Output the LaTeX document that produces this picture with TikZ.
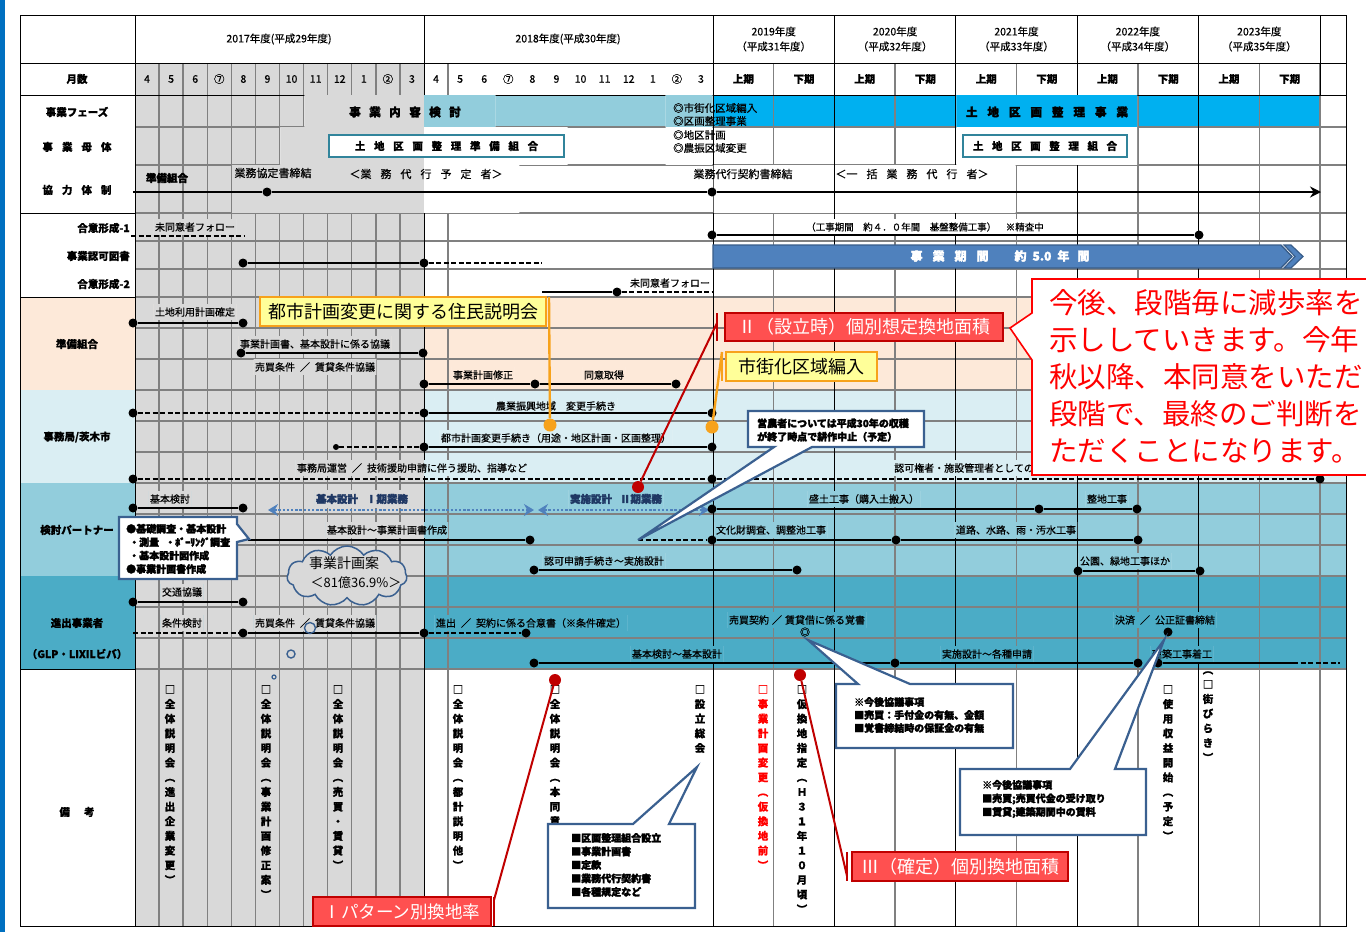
\documentclass[tikz,border=0pt]{standalone}
\usepackage{fontspec}
\setmainfont{Noto Sans CJK JP}[FakeBold=0.6]
\newfontfamily\hv{Noto Sans CJK JP}[FakeBold=2.5]
\newfontfamily\thn{Noto Sans CJK JP}
\usetikzlibrary{arrows.meta,shapes.symbols}
\newcommand\myhs[1]{\hspace*{#1pt}}
\definecolor{gy}{HTML}{D9D9D9}
\definecolor{pch}{HTML}{FDE9D9}
\definecolor{lbA}{HTML}{DAEEF3}
\definecolor{lbB}{HTML}{92CDDC}
\definecolor{lbC}{HTML}{4BACC6}
\definecolor{phb}{HTML}{00B0F0}
\definecolor{gline}{HTML}{808080}
\definecolor{cdk}{HTML}{3A6090}
\definecolor{bnr}{HTML}{4F81BD}
\definecolor{bnrd}{HTML}{385D8A}
\definecolor{navy}{HTML}{1F3864}
\definecolor{tealbox}{HTML}{31849B}
\definecolor{redbox}{HTML}{FF5050}
\definecolor{redln}{HTML}{C00000}
\definecolor{yel}{HTML}{FFFF99}
\definecolor{orng}{HTML}{F7A21B}
\definecolor{leftbar}{HTML}{0070C0}
\definecolor{bigred}{HTML}{FF0000}
\pgfdeclarelayer{bg}
\pgfdeclarelayer{grid}
\pgfdeclarelayer{mask}
\pgfsetlayers{bg,grid,mask,main}
\newcommand\bgall{%
 \fill[white] (20,15) rectangle (1346,926);
 \fill[pch] (20,297) rectangle (1346,390);
 \fill[lbA] (20,390) rectangle (1346,483);
 \fill[lbB] (20,483) rectangle (1346,576);
 \fill[lbC] (20,576) rectangle (1346,669);
 \fill[lbB] (424,95) rectangle (713,127);
 \fill[phb] (713,95) rectangle (1320,127);
 \fill[gy] (135,63) rectangle (424,926);}
\newcommand\maskbox[2]{\begin{scope}\clip (#1) rectangle (#2);\bgall\end{scope}}
\begin{document}
\begin{tikzpicture}[x=1pt,y=-1pt,
 gl/.style={draw=gline,line width=1.4pt},
 bl/.style={draw=black,line width=0.9pt},
 yr/.style={font=\fontsize{10.5}{15}\selectfont,align=center,inner sep=0pt},
 mo/.style={font=\fontsize{10.5}{12}\selectfont,inner sep=0pt},
 hd/.style={font=\fontsize{10.5}{12}\selectfont\bfseries,inner sep=0pt},
 rl/.style={font=\fontsize{10.5}{13}\selectfont\bfseries,inner sep=1pt},
 lbl/.style={font=\fontsize{10}{12}\selectfont,inner xsep=1pt,inner ysep=3pt},
 sl/.style={font=\fontsize{9.5}{12}\selectfont,inner xsep=1pt,inner ysep=3pt},
 hvy/.style={font=\fontsize{11.5}{13}\selectfont\hv\bfseries,inner sep=1pt},
 nv/.style={font=\fontsize{10.5}{12}\selectfont\hv\bfseries,text=navy,inner xsep=1pt,inner ysep=3pt},
 bar/.style={line width=2.6pt},
 dbar/.style={line width=2.6pt,dash pattern=on 5pt off 2.5pt},
 dot/.style={circle,fill=black,inner sep=0pt,minimum size=9pt},
 sdot/.style={circle,fill=black,inner sep=0pt,minimum size=6pt},
 rdot/.style={circle,fill=redln,inner sep=0pt,minimum size=12pt},
 odot/.style={circle,fill=orng,inner sep=0pt,minimum size=13pt},
 vt/.style={font=\fontsize{10.5}{14.65}\selectfont\bfseries,align=center,anchor=north,inner sep=0pt},
 cb/.style={draw=cdk,line width=2.2pt,fill=white,line join=miter},
 ct/.style={font=\fontsize{10}{13.4}\selectfont\hv\bfseries,align=left,inner sep=0pt,anchor=west},
 rb/.style={fill=redbox,draw=redln,line width=2.4pt,text=white,font=\fontsize{18}{20}\selectfont\thn,inner sep=0pt},
 yb/.style={fill=yel,draw=orng,line width=2.8pt,font=\fontsize{18}{20}\selectfont\thn,inner sep=0pt},
 rln/.style={draw=redln,line width=2pt},
 oln/.style={draw=orng,line width=2.4pt},
 darr/.style={draw=bnr,line width=2.8pt,dash pattern=on 2.4pt off 1.8pt,<->,>={Stealth[length=10pt,width=12pt]}},
 mb/.style={draw=tealbox,line width=2.4pt,fill=white,font=\fontsize{10.5}{12}\selectfont\bfseries,inner sep=0pt},
]
\useasboundingbox (0,0) rectangle (1366,932);
\begin{pgfonlayer}{bg}
\fill[white] (0,0) rectangle (1366,932);
\bgall
\fill[leftbar] (0,0) rectangle (5,932);
\end{pgfonlayer}
\begin{pgfonlayer}{grid}
\foreach \i in {1,...,11,13,...,23} \draw[gl] ({135+24.083*\i},63) -- ({135+24.083*\i},926);
\foreach \x in {773.7,895.1,1016.5,1137.9,1259.3,1320} \draw[gl] (\x,63) -- (\x,926);
\foreach \y in {127,165,213,241,269,297,328,359,390,421,452,483,514,545,576,607,638,669} \draw[gl] (135,\y) -- (1346,\y);
\foreach \x in {135,424,713,834.4,955.8,1077.2,1198.6} \draw[bl] (\x,15) -- (\x,926);
\draw[bl] (1320,15) -- (1320,95);
\draw[bl] (20,63) -- (1346,63);
\draw[bl] (20,95) -- (1346,95);
\foreach \y in {213,297,669} \draw[bl] (20,\y) -- (135,\y);
\draw[bl] (20,15) rectangle (1346,926);
\end{pgfonlayer}

% ---------- header ----------
\node[yr] (y17) at (279,39) {2017年度(平成29年度)};
\node[yr] (y18) at (568,39) {2018年度(平成30年度)};
\foreach \xx/\yy/\hh [count=\k] in {773.7/2019/31,895.1/2020/32,1016.5/2021/33,1137.9/2022/34,1259.3/2023/35}
  \node[yr] (yh\k) at (\xx,39) {{\yy}年度\\（平成{\hh}年度）};
\node[hd] (hmon) at (77,79) {月数};
\foreach \mm [count=\i from 0] in {4,5,6,⑦,8,9,10,11,12,1,②,3,4,5,6,⑦,8,9,10,11,12,1,②,3}
  \node[mo] (mo\i) at ({147.04+24.083*\i},79) {\mm};
\foreach \j in {0,2,4,6,8} \node[hd] (hu\j) at ({743.35+60.7*\j},79) {上期};
\foreach \j in {1,3,5,7,9} \node[hd] (hl\j) at ({743.35+60.7*\j},79) {下期};

% ---------- row labels ----------
\node[rl] (r1) at (77,112) {事業フェーズ};
\node[rl] (r2) at (77,147) {事\myhs{9}業\myhs{9}母\myhs{9}体};
\node[rl] (r3) at (77,190) {協\myhs{9}力\myhs{9}体\myhs{9}制};
\node[rl,anchor=east] (r4) at (131,228) {合意形成-1};
\node[rl,anchor=east] (r5) at (131,256) {事業認可図書};
\node[rl,anchor=east] (r6) at (131,284) {合意形成-2};
\node[rl] (r7) at (77,344) {準備組合};
\node[rl] (r8) at (77,437) {事務局/茨木市};
\node[rl] (r9) at (77,530) {検討パートナー};
\node[rl] (r10) at (77,623) {進出事業者};
\node[rl] (r11) at (77,654) {（GLP・LIXILビバ）};
\node[rl] (r12) at (77,812) {備\myhs{14}考};

% ---------- phase / body / cooperation rows ----------
\node[hvy] (ph1) at (405,112) {事\myhs{8.5}業\myhs{8.5}内\myhs{8.5}容\myhs{8.5}検\myhs{8.5}討};
\node[hvy] (ph2) at (1047,112) {土\myhs{10}地\myhs{10}区\myhs{10}画\myhs{10}整\myhs{10}理\myhs{10}事\myhs{10}業};
\node[lbl,anchor=west,font=\fontsize{10.5}{12}\selectfont] (ph3) at (672,108) {◎市街化区域編入};
\node[lbl,anchor=west,font=\fontsize{10.5}{12}\selectfont] (ph4) at (672,121) {◎区画整理事業};
\node[lbl,anchor=west,font=\fontsize{10.5}{12}\selectfont] (ph5) at (672,135) {◎地区計画};
\node[lbl,anchor=west,font=\fontsize{10.5}{12}\selectfont] (ph6) at (672,148) {◎農振区域変更};
\node[mb,minimum width=235pt,minimum height=22pt] (mb1) at (446.5,146) {土\myhs{8.7}地\myhs{8.7}区\myhs{8.7}画\myhs{8.7}整\myhs{8.7}理\myhs{8.7}準\myhs{8.7}備\myhs{8.7}組\myhs{8.7}合};
\node[mb,minimum width=164pt,minimum height=22pt] (mb2) at (1045,146) {土\myhs{8.6}地\myhs{8.6}区\myhs{8.6}画\myhs{8.6}整\myhs{8.6}理\myhs{8.6}組\myhs{8.6}合};
\node[hvy,font=\fontsize{10.5}{12}\selectfont\hv\bfseries] (kt1) at (167,178) {準備組合};
\node[lbl,font=\fontsize{11}{12}\selectfont] (kt2) at (273,173) {業務協定書締結};
\node[lbl,font=\fontsize{11}{12}\selectfont] (kt3) at (426,174) {＜業\myhs{9}務\myhs{9}代\myhs{9}行\myhs{9}予\myhs{9}定\myhs{9}者＞};
\node[lbl,font=\fontsize{11}{12}\selectfont] (kt4) at (743,174) {業務代行契約書締結};
\node[lbl,font=\fontsize{11}{12}\selectfont] (kt5) at (912,174) {＜一\myhs{9}括\myhs{9}業\myhs{9}務\myhs{9}代\myhs{9}行\myhs{9}者＞};
\coordinate (kS) at (133,192);
\node[dot] (k1) at (267,192) {};
\node[dot] (k2) at (712,192) {};
\coordinate (kE) at (1321,192);
\draw[bar] (kS) -- (k1);
\draw[bar] (k1) -- (k2);
\draw[bar,-{Stealth[length=11pt,width=11pt]}] (k2) -- (kE);

% ---------- consent / approval rows ----------
\node[lbl] (gA) at (195,227) {未同意者フォロー};
\node[sl] (gB) at (925,227) {（工事期間　約４．０年間　基盤整備工事）　※精査中};
\node[lbl] (gC) at (670,283) {未同意者フォロー};
\coordinate (g1s) at (131,236); \coordinate (g1e) at (245,236);
\draw[dbar] (g1s) -- (g1e);
\node[dot] (g1a) at (712,235) {}; \node[dot] (g1b) at (1199,235) {};
\draw[bar] (g1a) -- (g1b);
\node[dot] (j1) at (243,263) {}; \node[dot] (j2) at (424,263) {}; \coordinate (j3) at (542,263);
\draw[bar] (j1) -- (j2); \draw[dbar] (j2) -- (j3);
\coordinate (g2s) at (542,292); \node[dot] (g2a) at (617,292) {}; \coordinate (g2e) at (713,292);
\draw[bar] (g2s) -- (g2a); \draw[dbar] (g2a) -- (g2e);
\draw[fill=bnr,draw=bnrd,line width=1.4pt] (713,245) -- (1281,245) -- (1292,256.5) -- (1281,268) -- (713,268) -- cycle;
\draw[fill=bnr,draw=bnrd,line width=1.2pt] (1284,245) -- (1291,245) -- (1303,256.5) -- (1291,268) -- (1284,268) -- (1295,256.5) -- cycle;
\node[font=\fontsize{12}{14}\selectfont\hv\bfseries,text=white,inner sep=0pt] (bnt) at (1000,256) {事\myhs{10}業\myhs{10}期\myhs{10}間\myhs{26}約\myhs{6}5.0\myhs{6}年\myhs{8}間};

% ---------- 準備組合 ----------
\node[lbl] (pA) at (195,312) {土地利用計画確定};
\node[lbl] (pB) at (315,344) {事業計画書、基本設計に係る協議};
\node[lbl] (pC) at (315,367) {売買条件\myhs{5}／\myhs{5}賃貸条件協議};
\node[lbl] (pD) at (483,375) {事業計画修正};
\node[lbl] (pE) at (604,375) {同意取得};
\node[dot] (p1a) at (133,323) {}; \node[dot] (p1b) at (243,323) {};
\draw[bar] (p1a) -- (p1b);
\node[dot] (p2a) at (241,353) {}; \node[dot] (p2b) at (423,353) {};
\draw[bar] (p2a) -- (p2b);
\node[dot] (p3a) at (424,384) {}; \node[dot] (p3b) at (535,384) {}; \node[dot] (p3c) at (676,384) {};
\draw[bar] (p3a) -- (p3b); \draw[bar] (p3b) -- (p3c);

% ---------- 事務局 ----------
\node[lbl] (sA) at (556,406) {農業振興地域　変更手続き};
\node[lbl] (sB) at (556,438) {都市計画変更手続き（用途・地区計画・区画整理）};
\node[lbl] (sC) at (412,468) {事務局運営\myhs{5}／\myhs{5}技術援助申請に伴う援助、指導など};
\node[lbl,anchor=west] (sD) at (893,468) {認可権者・施設管理者としての};
\node[dot] (s1a) at (133,413) {}; \node[dot] (s1b) at (424,413) {}; \node[dot] (s1c) at (712,413) {};
\draw[dbar] (s1a) -- (s1b); \draw[bar] (s1b) -- (s1c);
\node[sdot] (s2a) at (336,447) {}; \node[dot] (s2b) at (424,447) {}; \node[dot] (s2c) at (712,447) {};
\draw[dbar] (s2a) -- (s2b); \draw[bar] (s2b) -- (s2c);
\node[dot] (s3a) at (133,479) {}; \node[dot] (s3b) at (712,479) {}; \node[dot] (s3c) at (1320,479) {};
\draw[dbar] (s3a) -- (s3b); \draw[dbar] (s3b) -- (s3c);

% ---------- 検討パートナー ----------
\node[lbl] (kA) at (170,499) {基本検討};
\node[nv] (kB) at (362,499) {基本設計\myhs{8}Ⅰ期業務};
\node[nv] (kC) at (616,499) {実施設計\myhs{8}Ⅱ期業務};
\node[lbl] (kD) at (864,499) {盛土工事（購入土搬入）};
\node[lbl] (kE2) at (1107,499) {整地工事};
\node[lbl] (kF) at (387,530) {基本設計～事業計画書作成};
\node[lbl] (kG) at (771,530) {文化財調査、調整池工事};
\node[lbl] (kH) at (1016,530) {道路、水路、雨・汚水工事};
\node[lbl] (kI) at (604,561) {認可申請手続き～実施設計};
\node[lbl] (kJ) at (1125,561) {公園、緑地工事ほか};
\node[dot] (t1a) at (133,508) {}; \node[dot] (t1b) at (243,508) {};
\draw[bar] (t1a) -- (t1b);
\coordinate (a1l) at (268,510); \coordinate (a1r) at (534,510);
\coordinate (a2l) at (538,510); \coordinate (a2r) at (709,510);
\draw[darr] (a1l) -- (a1r);
\draw[darr] (a2l) -- (a2r);
\node[dot] (t1c) at (712,509) {}; \node[dot] (t1d) at (1039,509) {}; \node[dot] (t1e) at (1137,509) {};
\draw[bar] (t1c) -- (t1d); \draw[bar] (t1d) -- (t1e);
\coordinate (t2s) at (248,540); \node[dot] (t2b) at (530,540) {};
\draw[bar] (t2s) -- (t2b);
\coordinate (t2c) at (638,540); \node[dot] (t2d) at (712,540) {}; \node[dot] (t2e) at (896,540) {}; \node[dot] (t2f) at (1138,540) {};
\draw[dbar] (t2c) -- (t2d); \draw[bar] (t2d) -- (t2e); \draw[bar] (t2e) -- (t2f);
\node[dot] (t3a) at (534,570) {}; \node[dot] (t3b) at (797,570) {};
\draw[bar] (t3a) -- (t3b);
\node[dot] (t3c) at (1078,571) {}; \node[dot] (t3d) at (1200,571) {};
\draw[bar] (t3c) -- (t3d);

% ---------- 進出事業者 ----------
\node[lbl] (uA) at (182,592) {交通協議};
\node[lbl] (uB) at (182,623) {条件検討};
\node[lbl] (uC) at (315,623) {売買条件\myhs{5}／\myhs{5}賃貸条件協議};
\node[lbl] (uD) at (531,623) {進出\myhs{5}／\myhs{5}契約に係る合意書（※条件確定）};
\node[lbl] (uE) at (797,620) {売買契約\myhs{3}／\myhs{3}賃貸借に係る覚書};
\node[lbl] (uF) at (1165,620) {決済\myhs{5}／\myhs{5}公正証書締結};
\node[lbl] (uG) at (677,654) {基本検討～基本設計};
\node[lbl] (uH) at (987,654) {実施設計～各種申請};
\node[lbl] (uI) at (1182,654) {建築工事着工};
\node[inner sep=0pt,font=\fontsize{10}{12}\selectfont] (uJ) at (805,632) {◎};
\node[dot] (u1a) at (133,602) {}; \node[dot] (u1b) at (243,602) {};
\draw[bar] (u1a) -- (u1b);
\coordinate (u2s) at (133,633); \node[dot] (u2b) at (243,633) {}; \node[dot] (u2c) at (424,633) {}; \node[dot] (u2d) at (526,633) {};
\draw[dbar] (u2s) -- (u2b); \draw[bar] (u2b) -- (u2c); \draw[dbar] (u2c) -- (u2d);
\node[dot] (u2e) at (1168,632) {};
\node[dot] (u3a) at (534,663) {}; \node[dot] (u3b) at (895,663) {}; \node[dot] (u3c) at (1138,663) {};
\draw[bar] (u3a) -- (u3b); \draw[bar] (u3b) -- (u3c);
\node[dot] (u3d) at (1158,663) {}; \coordinate (u3e) at (1293,663); \coordinate (u3f) at (1340,663);
\draw[bar] (u3d) -- (u3e); \draw[dbar] (u3e) -- (u3f);

% ---------- masks for merged cells ----------
\begin{pgfonlayer}{mask}
\maskbox{304.5,95.5}{495.3,126.2}
\maskbox{665.7,95.5}{712.4,164.2}
\maskbox{956.4,95.5}{1137,126.2}
\maskbox{280.4,127.8}{567.6,164.2}
\maskbox{956.4,127.8}{1137,164.2}
\maskbox{232.2,165.8}{519.4,212.2}
\maskbox{713.6,165.8}{833.8,212.2}
\maskbox{835,165.8}{1015.7,212.2}
\foreach \n in {gA,gB,gC,pA,pB,pC,pD,pE,sA,sB,sC,sD,kA,kB,kC,kD,kE2,kF,kG,kH,kI,kJ,uA,uB,uC,uD,uE,uF,uG,uH,uI}
  {\maskbox{\n.south west}{\n.north east}}
\end{pgfonlayer}

% ---------- cloud ----------
\node[cloud,cloud puffs=11,cloud puff arc=115,aspect=2,draw=cdk,line width=1.5pt,fill=gy,minimum width=120pt,minimum height=60pt,inner sep=0pt] (cld) at (347,576) {};
\node[font=\fontsize{14}{16}\selectfont\thn,inner sep=0pt] (cldA) at (344,563) {事業計画案};
\node[font=\fontsize{13}{15}\selectfont\thn,inner sep=0pt] (cldB) at (356,583) {＜81億36.9\%＞};
\node[circle,draw=cdk,line width=1.4pt,minimum size=11pt,inner sep=0pt] (tb1) at (310,628) {};
\node[circle,draw=cdk,line width=1.4pt,minimum size=8pt,inner sep=0pt] (tb2) at (291,654) {};
\node[circle,draw=cdk,line width=1.2pt,minimum size=4pt,inner sep=0pt] (tb3) at (274,677) {};

% ---------- remarks (vertical text) ----------
\node[vt] (v1) at (170,685) {□\\全\\体\\説\\明\\会\\︵\\進\\出\\企\\業\\変\\更\\︶};
\node[vt] (v2) at (266,685) {□\\全\\体\\説\\明\\会\\︵\\事\\業\\計\\画\\修\\正\\案\\︶};
\node[vt] (v3) at (338,685) {□\\全\\体\\説\\明\\会\\︵\\売\\買\\・\\賃\\貸\\︶};
\node[vt] (v4) at (458,685) {□\\全\\体\\説\\明\\会\\︵\\都\\計\\説\\明\\他\\︶};
\node[vt] (v5) at (555,685) {□\\全\\体\\説\\明\\会\\︵\\本\\同\\意\\︶};
\node[vt] (v6) at (700,685) {□\\設\\立\\総\\会};
\node[vt,text=bigred] (v7) at (763,685) {□\\事\\業\\計\\画\\変\\更\\︵\\仮\\換\\地\\前\\︶};
\node[vt] (v8) at (802,685) {□\\仮\\換\\地\\指\\定\\︵\\Ｈ\\３\\１\\年\\１\\０\\月\\頃\\︶};
\node[vt] (v9) at (1168,685) {□\\使\\用\\収\\益\\開\\始\\︵\\予\\定\\︶};
\node[vt] (v10) at (1208,671) {︵\\□\\街\\び\\ら\\き\\︶};

% ---------- callouts (blue) ----------
\draw[cb] (119,517) -- (237,517) -- (237,524) -- (249,539) -- (237,542) -- (237,579) -- (119,579) -- cycle;
\node[ct] (c1) at (126,549) {●基礎調査・基本設計\\\myhs{3}・測量\myhs{6}・ﾎﾞｰﾘﾝｸﾞ調査\\\myhs{3}・基本設計図作成\\●事業計画書作成};
\draw[cb] (748,411) -- (924,411) -- (924,447) -- (812,447) -- (638,540) -- (774,447) -- (748,447) -- cycle;
\node[ct] (c2) at (757,430) {営農者については平成30年の収穫\\が終了時点で耕作中止（予定）};
\draw[cb] (836,684) -- (858,684) -- (808,640) -- (910,684) -- (1013,684) -- (1013,748) -- (836,748) -- cycle;
\node[ct,font=\fontsize{10}{13}\selectfont\hv\bfseries] (c3) at (854,715) {※今後協議事項\\■売買：手付金の有無、金額\\■覚書締結時の保証金の有無};
\draw[cb] (960,769) -- (1070,769) -- (1164,640) -- (1115,769) -- (1146,769) -- (1146,835) -- (960,835) -- cycle;
\node[ct,font=\fontsize{10}{13.5}\selectfont\hv\bfseries] (c4) at (982,799) {※今後協議事項\\■売買;売買代金の受け取り\\■賃貸;建築期間中の賃料};
\draw[cb] (548,824) -- (633,824) -- (697,767) -- (669,824) -- (695,824) -- (695,908) -- (548,908) -- cycle;
\node[ct,font=\fontsize{10}{13.5}\selectfont\hv\bfseries] (c5) at (571,865) {■区画整理組合設立\\■事業計画書\\■定款\\■業務代行契約書\\■各種規定など};

% ---------- yellow callouts ----------
\node[yb,minimum width=286pt,minimum height=29pt] (yb1) at (403,311.5) {都市計画変更に関する住民説明会};
\node[odot] (o1) at (550,425) {};
\coordinate (yb1a) at (549,297);
\draw[oln] (yb1a) -- (o1);
\node[yb,minimum width=151pt,minimum height=29pt] (yb2) at (801.5,366.5) {市街化区域編入};
\node[odot] (o2) at (712,427) {};
\coordinate (yb2a) at (722,352); \coordinate (yb2b) at (722,381);
\draw[oln] (yb2a) -- (yb2b);
\draw[oln] (yb2a) -- (o2);

% ---------- red callouts ----------
\node[rb,minimum width=278pt,minimum height=28pt] (rb2) at (864,327) {Ⅱ（設立時）個別想定換地面積};
\node[rdot] (rd1) at (638,487) {};
\coordinate (rb2a) at (717,313); \coordinate (rb2b) at (717,341); \coordinate (rb2c) at (717,323);
\draw[rln,line width=2.6pt] (rb2a) -- (rb2b);
\draw[rln] (rb2c) -- (rd1);
\node[rb,minimum width=178pt,minimum height=29pt,font=\fontsize{17.5}{20}\selectfont\thn] (rb1) at (402,911.5) {Ⅰパターン別換地率};
\node[rdot] (rd2) at (555,680) {};
\coordinate (rb1a) at (494,897); \coordinate (rb1b) at (494,926); \coordinate (rb1c) at (494,900);
\draw[rln,line width=2.6pt] (rb1a) -- (rb1b);
\draw[rln] (rb1c) -- (rd2);
\node[rb,minimum width=216pt,minimum height=29pt] (rb3) at (960,866.5) {Ⅲ（確定）個別換地面積};
\node[rdot] (rd3) at (800,675) {};
\coordinate (rb3a) at (847,852); \coordinate (rb3b) at (847,881); \coordinate (rb3c) at (847,876);
\draw[rln,line width=2.6pt] (rb3a) -- (rb3b);
\draw[rln] (rb3c) -- (rd3);

% ---------- big red note ----------
\draw[draw=bigred,line width=1.6pt,fill=white] (1032,279) -- (1380,279) -- (1380,475) -- (1032,475) -- (1032,360) -- (1010,328) -- (1032,313) -- cycle;
\node[font=\fontsize{28.5}{37}\selectfont\thn,text=bigred,align=left,anchor=north west,inner sep=0pt] (big) at (1049,289) {今後、段階毎に減歩率を\\示ししていきます。今年\\秋以降、本同意をいただ\\段階で、最終のご判断を\\ただくことになります。};
\end{tikzpicture}
\end{document}
